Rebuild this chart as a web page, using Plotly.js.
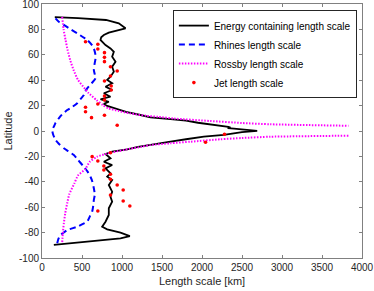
<!DOCTYPE html>
<html>
<head>
<meta charset="utf-8">
<script src="https://cdn.plot.ly/plotly-3.0.1.min.js"></script>
<style>html,body{margin:0;padding:0;background:#fff;}#chart{width:374px;height:291px;}</style>
</head>
<body>
<div id="chart"></div>
<script>
// Energy containing length scale (north pole -> south pole)
const energyLat = [89.6,88.9,87.4,84.8,80.9,79,77.4,75.6,73.8,71.7,67.7,65,62.4,58.5,54.6,50.6,46.7,42.8,40.2,37.6,34.9,32.3,29.7,27,25,23,21.3,19.7,17.1,15,12.6,10.8,9.4,8.1,6.5,4.7,3.3,2.6,2.2,1.8,1,0.1,-0.8,-1.8,-2.5,-3.1,-4.5,-5.3,-6.5,-8.4,-9.7,-11,-12.5,-14.4,-16.3,-18.1,-21.5,-24.2,-26.8,-29.4,-33.3,-36,-38.6,-42.5,-47.8,-51.7,-55.7,-60.9,-66.1,-71.4,-75.4,-77.4,-80.1,-82.7,-84.5,-87.2,-89.6];
const energyLen = [160,450,800,960,1044,940,835,773,740,731,794,856,898,877,919,877,898,856,815,877,794,877,773,856,731,835,773,815,940,1050,1231,1356,1606,1800,1950,2200,2330,2356,2320,2400,2550,2690,2500,2380,2330,2273,2023,1950,1800,1606,1450,1356,1200,1065,877,794,856,773,877,794,856,815,877,835,877,856,877,835,835,794,752,815,981,1098,981,523,148];

// Rhines length scale
const rhinesLat = [88.7,86,83.5,80,76.9,74,71.7,68,65,61,57.2,52,48,44.5,41.5,37.5,33.6,31,28.3,25,21.8,19,16.5,13,10,6.5,3.4,0.8,-3,-7.1,-10,-13.6,-16,-18.9,-22,-25,-28.1,-32,-36,-40,-45.1,-50,-54.3,-59,-63.5,-67,-71.4,-73.5,-75.4,-78,-80,-81.9,-85,-88.4];
const rhinesLen = [169,210,273,360,440,510,565,620,648,665,669,655,648,660,669,620,565,540,523,480,440,380,315,250,210,170,148,127,140,169,210,273,330,398,440,480,523,570,606,630,648,660,648,640,627,600,565,500,440,315,270,231,205,190];

// Rossby length scale (north branch, gap, south branch)
const rossbyLat = [89.8,80,71.7,63.8,55.9,48,40.2,33,30,24.4,20.5,17.9,15.7,13.9,12,11.2,9.8,7.9,6.3,5.3,4.1,null,-3.7,-4.5,-5.5,-6.5,-8.4,-9.7,-11,-12.3,-14,-17.1,-20.2,-24,-30,-35,-41.2,-50,-56.9,-65,-72.7,-80.6,-88.4];
const rossbyLen = [252,270,294,320,352,395,450,540,580,680,760,830,960,1100,1300,1450,1650,2100,2500,2856,3831,null,3830,2856,2500,2231,1856,1606,1356,1250,1100,856,690,600,540,450,405,340,315,290,273,260,252];

// Jet length scale
const jetLat = [70.3,68.3,64.6,61.7,58,54.6,50.6,47.2,43.3,39.4,35.4,32.3,27.6,24.4,21.3,18.7,15.2,12.4,10.5,4.5,-2.6,-8.9,-17.1,-20.2,-23.6,-27.6,-30.7,-34.1,-38,-42.5,-46.5,-50.4,-55.1,-59.1,-63];
const jetLen = [544,698,698,781,781,781,856,940,856,781,865,865,781,781,698,544,544,781,619,940,2281,2044,856,627,698,773,773,856,856,940,1015,856,1015,1098,698];

const xTicks = [0,500,1000,1500,2000,2500,3000,3500,4000];
const yTicks = [-100,-80,-60,-40,-20,0,20,40,60,80,100];

const traces = [
  {x: energyLen, y: energyLat, mode: 'lines', name: 'Energy containing length scale',
   line: {color: '#000000', width: 1.8}},
  {x: rhinesLen, y: rhinesLat, mode: 'lines', name: 'Rhines length scale',
   line: {color: '#0000ff', width: 2, dash: '6px,4px', shape: 'spline', smoothing: 0.5}},
  {x: rossbyLen, y: rossbyLat, mode: 'lines', name: 'Rossby length scale', connectgaps: false,
   line: {color: '#ff00ff', width: 2, dash: '1.5px,1.5px', shape: 'spline', smoothing: 0.6}},
  {x: jetLen, y: jetLat, mode: 'markers', name: 'Jet length scale',
   marker: {color: '#ff0000', size: 3.6}}
];

const axisCommon = {
  showline: true, linecolor: '#808080', linewidth: 1, mirror: 'ticks',
  ticks: 'inside', ticklen: 3, tickcolor: '#808080', tickwidth: 1,
  showgrid: false, zeroline: false, ticklabeloverflow: 'allow',
  tickfont: {family: 'Liberation Sans, Arial, sans-serif', size: 10, color: '#262626'}
};

const layout = {
  width: 374, height: 291,
  margin: {l: 42, r: 12, t: 4, b: 33},
  paper_bgcolor: '#ffffff', plot_bgcolor: '#ffffff',
  showlegend: true,
  xaxis: Object.assign({}, axisCommon, {
    range: [0, 4000], tickvals: xTicks, ticktext: xTicks.map(String),
    title: {text: 'Length scale [km]', standoff: 5,
            font: {family: 'Liberation Sans, Arial, sans-serif', size: 11, color: '#262626'}}
  }),
  yaxis: Object.assign({}, axisCommon, {
    range: [-100, 100], tickvals: yTicks, ticktext: yTicks.map(String),
    title: {text: 'Latitude', standoff: 4,
            font: {family: 'Liberation Sans, Arial, sans-serif', size: 11, color: '#262626'}}
  }),
  legend: {
    x: 0.984, xanchor: 'right', y: 0.976, yanchor: 'top',
    bgcolor: '#ffffff', bordercolor: '#262626', borderwidth: 1,
    font: {family: 'Liberation Sans, Arial, sans-serif', size: 10, color: '#000000'},
    itemwidth: 30, tracegroupgap: 0
  }
};

Plotly.newPlot('chart', traces, layout, {displayModeBar: false, staticPlot: true});
</script>
</body>
</html>
